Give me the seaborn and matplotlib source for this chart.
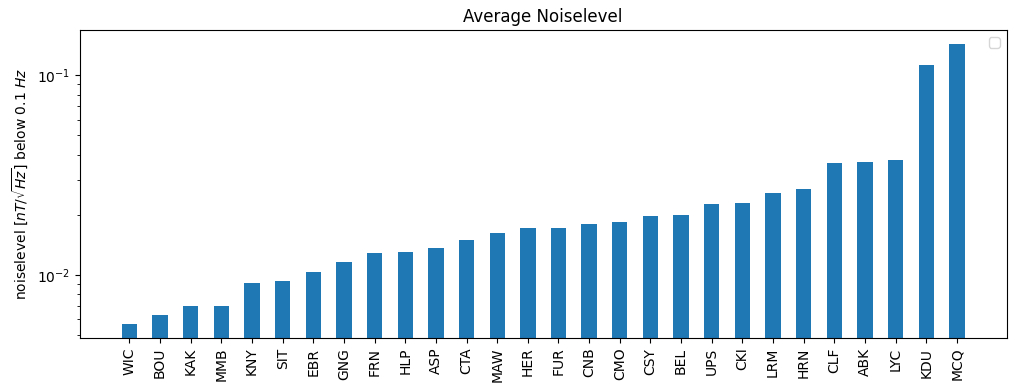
import matplotlib
matplotlib.use('Agg')
import matplotlib.pyplot as plt
import seaborn as sns

# Станции и средний уровень шума
stations = ['WIC', 'BOU', 'KAK', 'MMB', 'KNY', 'SIT', 'EBR', 'GNG', 'FRN', 'HLP',
            'ASP', 'CTA', 'MAW', 'HER', 'FUR', 'CNB', 'CMO', 'CSY', 'BEL', 'UPS',
            'CKI', 'LRM', 'HRN', 'CLF', 'ABK', 'LYC', 'KDU', 'MCQ']
noise = [0.00569, 0.0063, 0.0070, 0.0070, 0.0091, 0.0093, 0.0104, 0.0116, 0.0129, 0.0130,
         0.0137, 0.0150, 0.0162, 0.0172, 0.0172, 0.0180, 0.0184, 0.0197, 0.0200, 0.0227,
         0.0229, 0.0257, 0.0269, 0.0363, 0.0367, 0.0376, 0.112, 0.143]

fig = plt.figure(figsize=(10.21, 3.92), dpi=100)
ax = fig.add_axes([0.078, 0.138, 0.908, 0.785])

sns.barplot(x=stations, y=noise, color='#1f77b4', saturation=1, width=0.5, ax=ax)
ax.set_yscale('log')
ax.set_ylim(0.00484, 0.168)
ax.set_xlim(-1.625, 27.625 + 1)
ax.tick_params(axis='x', labelrotation=90)
ax.set_title('Average Noiselevel')
ax.set_ylabel(r'noiselevel [$nT/\sqrt{Hz}$] below 0.1 $Hz$')
ax.legend(handles=[], loc='upper right')

fig.savefig('out.png', dpi=100)
